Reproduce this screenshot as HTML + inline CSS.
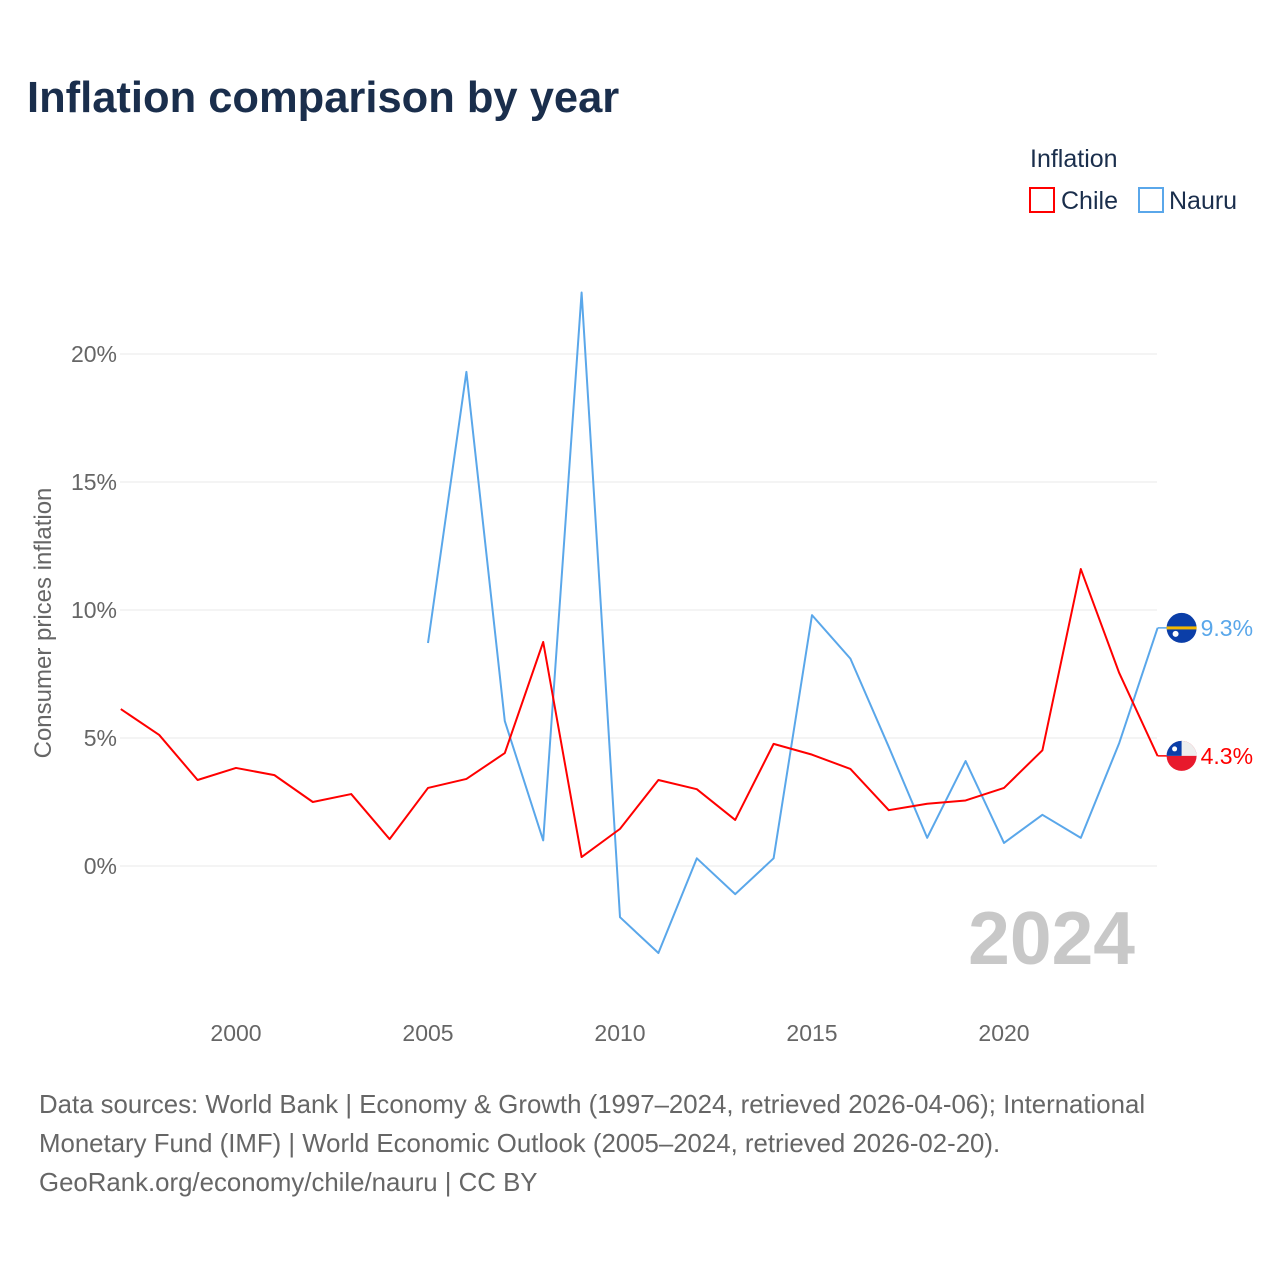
<!DOCTYPE html>
<html><head><meta charset="utf-8"><style>
body{margin:0;background:#fff;font-family:"Liberation Sans",sans-serif}
</style></head><body>
<svg width="1280" height="1280" viewBox="0 0 1280 1280" xmlns="http://www.w3.org/2000/svg">
<text x="27" y="112" font-size="43.5" font-weight="bold" fill="#1a2e4c">Inflation comparison by year</text>
<text x="1030" y="167" font-size="25" fill="#1a2e4c">Inflation</text>
<g><rect x="1030" y="188" width="24" height="24" fill="none" stroke="#ff0000" stroke-width="2"/><text x="1061" y="209" font-size="25" fill="#1a2e4c">Chile</text></g>
<g><rect x="1139" y="188" width="24" height="24" fill="none" stroke="#5aa7ea" stroke-width="2"/><text x="1169" y="209" font-size="25" fill="#1a2e4c">Nauru</text></g>
<g id="grid"></g>
<g id="yt"></g>
<g id="xt"></g>
<text transform="translate(51,623) rotate(-90)" text-anchor="middle" font-size="24" fill="#666">Consumer prices inflation</text>
<text x="1135" y="964" text-anchor="end" font-size="75" font-weight="bold" fill="#c8c8c8">2024</text>
<g id="series"></g>
<g font-size="25.8" fill="#666">
<text x="39" y="1113">Data sources: World Bank | Economy &amp; Growth (1997–2024, retrieved 2026-04-06); International</text>
<text x="39" y="1152">Monetary Fund (IMF) | World Economic Outlook (2005–2024, retrieved 2026-02-20).</text>
<text x="39" y="1191">GeoRank.org/economy/chile/nauru | CC BY</text>
</g>
</svg>
<script>
const chileYears=[1997,1998,1999,2000,2001,2002,2003,2004,2005,2006,2007,2008,2009,2010,2011,2012,2013,2014,2015,2016,2017,2018,2019,2020,2021,2022,2023,2024];
const chileValues=[6.13,5.12,3.36,3.83,3.55,2.5,2.81,1.05,3.05,3.4,4.41,8.75,0.35,1.45,3.36,3.0,1.8,4.77,4.35,3.79,2.18,2.43,2.56,3.05,4.52,11.6,7.54,4.3];
const nauruYears=[2005,2006,2007,2008,2009,2010,2011,2012,2013,2014,2015,2016,2017,2018,2019,2020,2021,2022,2023,2024];
const nauruValues=[8.71,19.3,5.66,1.0,22.4,-2.0,-3.4,0.3,-1.1,0.3,9.8,8.1,4.65,1.1,4.1,0.9,2.0,1.1,4.8,9.3];
const yTicks=[0,5,10,15,20];
const xTicks=[2000,2005,2010,2015,2020];
const NS="http://www.w3.org/2000/svg";
const X=y=>236+(y-2000)*38.4;
const Y=v=>866-v*25.6;
function mk(t,a,p){const e=document.createElementNS(NS,t);for(const k in a)e.setAttribute(k,a[k]);p.appendChild(e);return e;}
const grid=document.getElementById('grid'),yt=document.getElementById('yt'),xt=document.getElementById('xt'),ser=document.getElementById('series');
yTicks.forEach(v=>{
 const l=mk('line',{x1:120,x2:1157,y1:Y(v),y2:Y(v),stroke:'#e8e8e8','stroke-width':1},grid);
 
 
 const t=mk('text',{x:117,y:Y(v)+8,'text-anchor':'end','font-size':23,fill:'#666'},yt);
 t.textContent=v+'%';
 
 
});
xTicks.forEach(v=>{
 const t=mk('text',{x:X(v),y:1041,'text-anchor':'middle','font-size':23,fill:'#666'},xt);
 t.textContent=v;
 
 
});
function line(ys,vs,c,name){
 const p=mk('polyline',{points:ys.map((y,i)=>X(y)+','+Y(vs[i])).join(' '),fill:'none',stroke:c,'stroke-width':2,'stroke-linejoin':'round'},ser);
 
 
 const lv=vs[vs.length-1],lx=X(ys[ys.length-1]);
 mk('line',{x1:lx,x2:lx+24,y1:Y(lv),y2:Y(lv),stroke:c,'stroke-width':1.5},ser);
 const t=mk('text',{x:lx+43,y:Y(lv)+8,'font-size':23,fill:c},ser);
 t.textContent=lv.toFixed(1)+'%';
 
 
 return [lx+24,Y(lv)];
}
const [nx,ny]=line(nauruYears,nauruValues,'#5aa7ea','nauru');
const [cx,cy]=line(chileYears,chileValues,'#ff0000','chile');
const nf=mk('g',{},ser);


mk('circle',{cx:nx,cy:ny,r:15,fill:'#0b3ea8'},nf);
mk('rect',{x:nx-15,y:ny-1.5,width:30,height:3,fill:'#f5b800'},nf);
mk('circle',{cx:nx-6,cy:ny+6,r:3,fill:'#fff'},nf);
const cf=mk('g',{},ser);


mk('circle',{cx:cx,cy:cy,r:15,fill:'#e8192c'},cf);
mk('path',{d:`M${cx-15},${cy} A15,15 0 0 1 ${cx+15},${cy} Z`,fill:'#eee'},cf);
mk('path',{d:`M${cx-15},${cy} A15,15 0 0 1 ${cx},${cy-15} L${cx},${cy} Z`,fill:'#0b3ea8'},cf);
mk('circle',{cx:cx-7,cy:cy-7,r:2.5,fill:'#fff'},cf);
</script>
</body></html>
